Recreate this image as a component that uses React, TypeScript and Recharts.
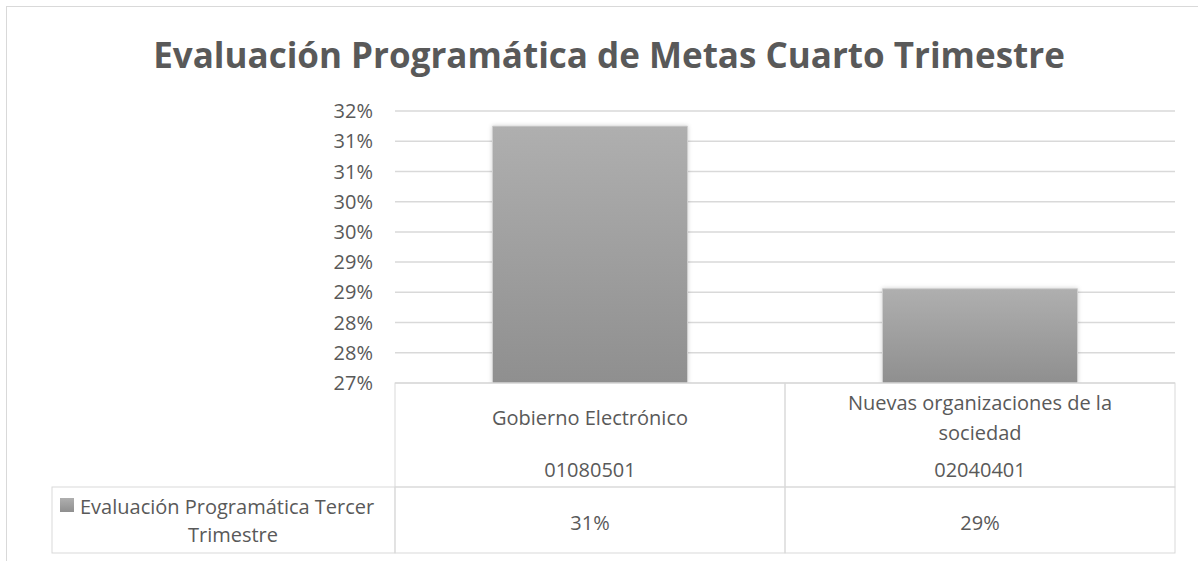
import React from "react";
import { ComposedChart, Bar, XAxis, YAxis, CartesianGrid } from "recharts";

const categories = ["Gobierno Electrónico", "Nuevas organizaciones de la sociedad"];
const codes = ["01080501", "02040401"];
const seriesName = "Evaluación Programática Tercer Trimestre";
const values = [0.3125, 0.2856];
const valueLabels = ["31%", "29%"];
const yTicks = [0.27, 0.275, 0.28, 0.285, 0.29, 0.295, 0.3, 0.305, 0.31, 0.315];
const yTickLabels = ["27%", "28%", "28%", "29%", "29%", "30%", "30%", "31%", "31%", "32%"];
const title = "Evaluación Programática de Metas Cuarto Trimestre";

const data = categories.map((c, i) => ({ name: c, value: values[i] }));

const FONT = "'Open Sans', sans-serif";
const TXT = "#595959";
const LINE = "#d9d9d9";

function wrap(text: string, max: number): string[] {
  const words = text.split(" ");
  const lines: string[] = [];
  let cur = "";
  for (const w of words) {
    const next = cur ? cur + " " + w : w;
    if (next.length > max && cur) {
      lines.push(cur);
      cur = w;
    } else cur = next;
  }
  if (cur) lines.push(cur);
  return lines;
}

function TableTick(props: any) {
  const { x, y, payload } = props;
  const i = payload.index ?? props.index ?? 0;
  const half = 195;
  const lines = wrap(categories[i], 27);
  const lh = 30;
  const nameCenter = y + 34;
  const startY = nameCenter - ((lines.length - 1) * lh) / 2;
  const legendLines = wrap(seriesName, 30);
  return (
    <g fontFamily={FONT} fontSize={20} fill={TXT}>
      <rect x={x - half} y={y} width={half * 2} height={104} fill="none" stroke={LINE} />
      <rect x={x - half} y={y + 104} width={half * 2} height={66} fill="none" stroke={LINE} />
      {lines.map((l, k) => (
        <text key={k} x={x} y={startY + k * lh} textAnchor="middle" dominantBaseline="central">
          {l}
        </text>
      ))}
      <text x={x} y={y + 86} textAnchor="middle" dominantBaseline="central">
        {codes[i]}
      </text>
      <text x={x} y={y + 139} textAnchor="middle" dominantBaseline="central">
        {valueLabels[i]}
      </text>
      {i === 0 && (
        <g>
          <rect x={52} y={y + 104} width={x - half - 52} height={66} fill="none" stroke={LINE} />
          <rect x={60} y={y + 115} width={14} height={14} fill="url(#barGrad)" />
          <text x={80} y={y + 123} textAnchor="start" dominantBaseline="central">
            {legendLines[0]}
          </text>
          <text x={233} y={y + 151} textAnchor="middle" dominantBaseline="central">
            {legendLines[1]}
          </text>
        </g>
      )}
    </g>
  );
}

export default function App() {
  return (
    <div style={{ position: "absolute", left: 0, top: 0, width: 1198, height: 561, background: "#fff", overflow: "hidden" }}>
      <div
        style={{
          position: "absolute",
          left: 6,
          top: 6,
          width: 1300,
          height: 700,
          border: `1px solid ${LINE}`,
          boxSizing: "border-box",
        }}
      />
      <div
        style={{
          position: "absolute",
          left: 10,
          top: 32,
          width: 1198,
          textAlign: "center",
          fontFamily: FONT,
          fontWeight: 700,
          fontSize: 35,
          color: TXT,
          lineHeight: "46px",
        }}
      >
        {title}
      </div>
      <div style={{ position: "absolute", left: 0, top: 0 }}>
        <ComposedChart
          width={1198}
          height={561}
          data={data}
          margin={{ top: 111, right: 23, left: 335, bottom: 0 }}
          barCategoryGap="25%"
        >
          <defs>
            <linearGradient id="barGrad" x1="0" y1="0" x2="0" y2="1">
              <stop offset="0%" stopColor="#afafaf" />
              <stop offset="100%" stopColor="#8f8f8f" />
            </linearGradient>
            <filter id="barShadow" x="-10%" y="-10%" width="120%" height="120%">
              <feDropShadow dx="0" dy="0" stdDeviation="2" floodColor="#000" floodOpacity="0.18" />
            </filter>
          </defs>
          <CartesianGrid horizontal vertical={false} stroke={LINE} strokeWidth={1.5} />
          <XAxis
            dataKey="name"
            axisLine={false}
            tickLine={false}
            tickSize={0}
            tickMargin={0}
            height={178}
            interval={0}
            tick={<TableTick />}
          />
          <YAxis
            domain={[0.27, 0.315]}
            ticks={yTicks}
            allowDataOverflow
            axisLine={false}
            tickLine={false}
            tickSize={0}
            tickMargin={22}
            width={60}
            interval={0}
            tick={{ fill: TXT, fontSize: 20, fontFamily: FONT }}
            tickFormatter={(v: number) => yTickLabels[yTicks.indexOf(v)] ?? ""}
          />
          <Bar
            dataKey="value"
            name={seriesName}
            fill="url(#barGrad)"
            stroke="#cfcfcf"
            strokeWidth={1}
            filter="url(#barShadow)"
            isAnimationActive={false}
          />
        </ComposedChart>
      </div>
    </div>
  );
}
